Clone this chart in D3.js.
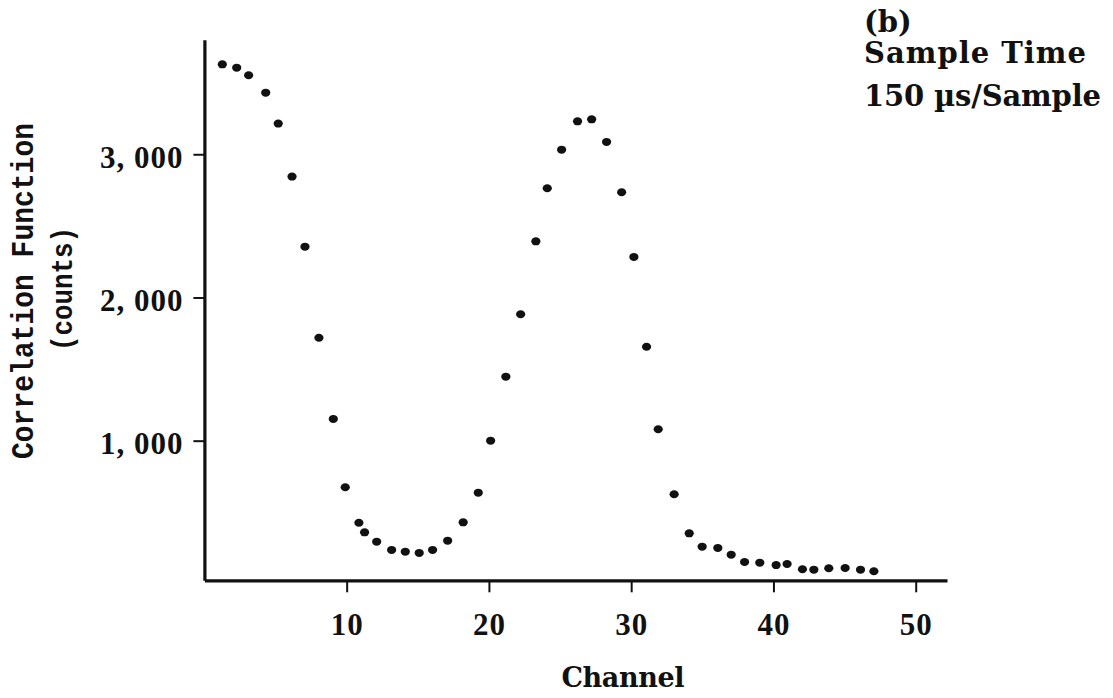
<!DOCTYPE html>
<html>
<head>
<meta charset="utf-8">
<script src="https://cdn.jsdelivr.net/npm/d3@7"></script>
<style>
  html, body { margin: 0; padding: 0; background: #fff; }
  svg { display: block; }
</style>
</head>
<body>
<svg id="chart" width="1113" height="698"></svg>
<script>
// Correlation function (counts) per channel, sample time 150 µs/sample
const channel = [1.26, 2.27, 3.11, 4.31, 5.19, 6.16, 7.07, 8.05, 9.06, 9.90,
                 10.86, 11.26, 12.11, 13.16, 14.12, 15.10, 16.04, 17.10, 18.19, 19.25,
                 20.12, 21.19, 22.23, 23.30, 24.10, 25.11, 26.23, 27.22, 28.27, 29.33,
                 30.19, 31.08, 31.90, 33.02, 34.08, 34.99, 36.09, 37.03, 37.97, 39.04,
                 40.19, 40.96, 42.04, 42.84, 43.89, 45.04, 46.12, 47.06];
const counts = [3628, 3605, 3552, 3430, 3214, 2844, 2355, 1719, 1152, 675,
                427, 360, 295, 237, 225, 216, 237, 302, 430, 637,
                1000, 1447, 1883, 2392, 2763, 3032, 3230, 3244, 3086, 2735,
                2283, 1656, 1080, 626, 353, 260, 251, 204, 153, 148,
                131, 139, 102, 99, 109, 111, 99, 88];

const xTicks = [10, 20, 30, 40, 50];
const yTicks = [1000, 2000, 3000];

const xLabel = "Channel";
const yLabel = ["Correlation Function", "(counts)"];
const noteLines = ["(b)", "Sample Time", "150 \u00b5s/Sample"];

const svg = d3.select("#chart");
const ink = "#111";

const x = d3.scaleLinear().domain([0, 52.2]).range([204.4, 947]);
const y = d3.scaleLinear().domain([25, 3800]).range([580.3, 39.7]);

const yFmt = d => d3.format(",")(d).replace(",", ", ");

// x axis
const gx = svg.append("g")
  .attr("transform", `translate(0,${y(25)})`)
  .call(d3.axisBottom(x).tickValues(xTicks).tickSize(12).tickSizeOuter(0).tickPadding(10));
gx.select(".domain").attr("stroke", ink).attr("stroke-width", 3.2);
gx.selectAll(".tick line").attr("stroke", ink).attr("stroke-width", 2);
gx.selectAll(".tick text")
  .attr("fill", ink)
  .attr("font-family", "'Liberation Serif', serif")
  .attr("font-weight", "bold")
  .attr("font-size", 31)
  .attr("letter-spacing", 1)
  .attr("dy", "1.05em");

// y axis
const gy = svg.append("g")
  .attr("transform", `translate(${x(0)},0)`)
  .call(d3.axisLeft(y).tickValues(yTicks).tickFormat(yFmt).tickSize(11).tickSizeOuter(0).tickPadding(10));
gy.select(".domain").attr("stroke", ink).attr("stroke-width", 3.2);
gy.selectAll(".tick line").attr("stroke", ink).attr("stroke-width", 2);
gy.selectAll(".tick text")
  .attr("fill", ink)
  .attr("font-family", "'Liberation Serif', serif")
  .attr("font-weight", "bold")
  .attr("font-size", 31)
  .attr("letter-spacing", 1)
  .attr("dy", "0.42em");

// data points
svg.append("g")
  .selectAll("ellipse")
  .data(channel.map((c, i) => ({ c, v: counts[i] })))
  .join("ellipse")
  .attr("cx", d => x(d.c))
  .attr("cy", d => y(d.v))
  .attr("rx", 4.6)
  .attr("ry", 4)
  .attr("fill", ink);

// axis titles
svg.append("text")
  .attr("x", 623).attr("y", 687)
  .attr("text-anchor", "middle")
  .attr("font-family", "'DejaVu Serif', serif")
  .attr("font-weight", "bold")
  .attr("font-size", 27)
  .attr("textLength", 123)
  .attr("lengthAdjust", "spacing")
  .attr("fill", ink)
  .text(xLabel);

const yl = svg.append("g").attr("font-family", "'Liberation Mono', monospace")
  .attr("font-weight", "bold").attr("fill", ink).attr("text-anchor", "middle");
yl.append("text")
  .attr("transform", "translate(33,291) rotate(-90)")
  .attr("font-size", 31)
  .attr("textLength", 336)
  .attr("lengthAdjust", "spacingAndGlyphs")
  .text(yLabel[0]);
yl.append("text")
  .attr("transform", "translate(72,289) rotate(-90)")
  .attr("font-size", 30)
  .attr("textLength", 124)
  .attr("lengthAdjust", "spacingAndGlyphs")
  .text(yLabel[1]);

// panel note
const noteY = [32, 63, 106];
const noteW = [null, 222, 237];
svg.append("g")
  .attr("font-family", "'DejaVu Serif', serif")
  .attr("font-weight", "bold")
  .attr("font-size", 29)
  .attr("fill", ink)
  .selectAll("text")
  .data(noteLines)
  .join("text")
  .attr("x", 864)
  .attr("y", (d, i) => noteY[i])
  .attr("textLength", (d, i) => noteW[i])
  .attr("lengthAdjust", (d, i) => noteW[i] ? "spacing" : null)
  .text(d => d);
</script>
</body>
</html>
